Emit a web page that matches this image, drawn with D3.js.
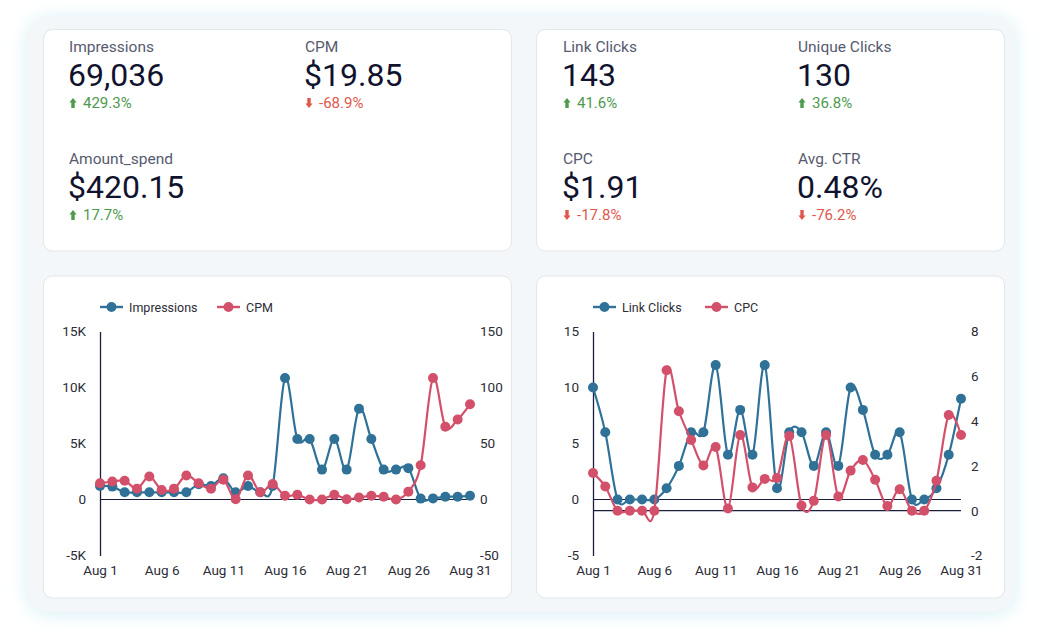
<!DOCTYPE html>
<html><head><meta charset="utf-8">
<script src="https://cdn.jsdelivr.net/npm/d3@7"></script>
<style>
html,body{margin:0;padding:0;background:#fff;}
svg{display:block;font-family:Roboto,"Noto Sans",sans-serif;}
</style></head>
<body><svg id="c" width="1041" height="642"></svg>
<script>
// ---- Data ----
const days = d3.range(1, 32);
const dayLabels = days.map(d => "Aug " + d);
const xTickDays = [1, 6, 11, 16, 21, 26, 31];

const impressions = [1200,1150,640,640,640,640,640,640,1360,1200,1900,640,1200,640,1200,10850,5400,5400,2670,5400,2670,8100,5400,2670,2670,2800,80,100,250,250,330];
const cpm = [14.5,16,16.7,9.7,20.6,8.5,9.7,21.5,14.5,9.7,17.6,0.3,21.5,6.4,13.8,3.3,4.2,0,0,4.2,0.3,1.8,3.3,2.4,0,7,30.6,108.5,65,71.5,85];
const linkClicks = [10,6,0,0,0,0,1,3,6,6,12,4,8,4,12,1,6,6,3,6,3,10,8,4,4,6,0,0,1,4,9];
const cpc = [1.68,1.08,0,0,0,0,6.27,4.44,3.16,2.02,2.84,0.1,3.38,1.04,1.42,1.46,3.34,0.23,0.44,3.38,0.63,1.79,2.26,1.38,0.21,0.96,0,0,1.34,4.27,3.38];

const leftTicksA = [-5000,0,5000,10000,15000];
const rightTicksA = [-50,0,50,100,150];
const leftTicksB = [-5,0,5,10,15];
const rightTicksB = [-2,0,2,4,6,8];

const kpiLeft = [
  {label:"Impressions", value:"69,036", delta:"429.3%", up:true},
  {label:"CPM", value:"$19.85", delta:"-68.9%", up:false},
  {label:"Amount_spend", value:"$420.15", delta:"17.7%", up:true}
];
const kpiRight = [
  {label:"Link Clicks", value:"143", delta:"41.6%", up:true},
  {label:"Unique Clicks", value:"130", delta:"36.8%", up:true},
  {label:"CPC", value:"$1.91", delta:"-17.8%", up:false},
  {label:"Avg. CTR", value:"0.48%", delta:"-76.2%", up:false}
];

// ---- Style ----
const BLUE = "#2f7197", RED = "#d3506b", AX = "#1b1d3d", TXT = "#2c2c36";
const GREEN = "#4d9a4d", DRED = "#e0584c";

const svg = d3.select("#c");
const defs = svg.append("defs");
const f = defs.append("filter").attr("id","glow").attr("x","-10%").attr("y","-10%").attr("width","120%").attr("height","120%");
f.append("feDropShadow").attr("dx",0).attr("dy",2).attr("stdDeviation",9).attr("flood-color","#c9eaf1").attr("flood-opacity",0.75);

svg.append("rect").attr("x",27).attr("y",16).attr("width",988).attr("height",596).attr("rx",22)
  .attr("fill","#f4f7f9").attr("filter","url(#glow)");

const cards = [[43,29.5,468,221.5],[536,29.5,468,221.5],[43,276,468,322],[536,276,468,322]];
svg.selectAll("rect.card").data(cards).join("rect").attr("class","card")
  .attr("x",d=>d[0]+0.5).attr("y",d=>d[1]).attr("width",d=>d[2]).attr("height",d=>d[3])
  .attr("rx",9).attr("fill","#fff").attr("stroke","#e2e7eb").attr("stroke-width",1);

// ---- KPI ----
function arrow(g, x, y, up, color){
  const p = up
    ? `M${x},${y-10} L${x+3.6},${y-5.5} L${x+1.7},${y-5.5} L${x+1.7},${y} L${x-1.7},${y} L${x-1.7},${y-5.5} L${x-3.6},${y-5.5} Z`
    : `M${x},${y} L${x+3.6},${y-4.5} L${x+1.7},${y-4.5} L${x+1.7},${y-10} L${x-1.7},${y-10} L${x-1.7},${y-4.5} L${x-3.6},${y-4.5} Z`;
  g.append("path").attr("d",p).attr("fill",color);
}
function kpi(k, x, y){
  const g = svg.append("g");
  g.append("text").attr("x",x).attr("y",y).attr("font-size",15.5).attr("fill","#565a70").text(k.label);
  g.append("text").attr("x",x-1).attr("y",y+34).attr("font-size",32).attr("fill","#11132e").text(k.value);
  const c = k.up ? GREEN : DRED;
  arrow(g, x+4, y+56, k.up, c);
  g.append("text").attr("x",x+14).attr("y",y+56).attr("font-size",15).attr("fill",c).text(k.delta);
}
kpi(kpiLeft[0], 69, 52);
kpi(kpiLeft[1], 305, 52);
kpi(kpiLeft[2], 69, 164);
kpi(kpiRight[0], 563, 52);
kpi(kpiRight[1], 798, 52);
kpi(kpiRight[2], 563, 164);
kpi(kpiRight[3], 798, 164);

// ---- Charts ----
const numFmt = d => String(d);
function chart(opt){
  const g = svg.append("g");
  const x = d3.scaleLinear().domain([1,31]).range([opt.x0, opt.x1]);
  const yL = d3.scaleLinear().domain(opt.lDom).range([555.5,331.5]);
  const yR = d3.scaleLinear().domain(opt.rDom).range([555.5,331.5]);

  g.append("line").attr("x1",opt.x0).attr("x2",opt.x1).attr("y1",yL(0)).attr("y2",yL(0)).attr("stroke",AX).attr("stroke-width",1.2);
  g.append("line").attr("x1",opt.x0).attr("x2",opt.x1).attr("y1",yR(0)).attr("y2",yR(0)).attr("stroke",AX).attr("stroke-width",1.2);

  const la = g.append("g").attr("transform",`translate(${opt.x0},0)`)
    .call(d3.axisLeft(yL).tickValues(opt.lTicks).tickSize(0).tickPadding(14).tickFormat(opt.lFmt));
  la.select(".domain").attr("stroke",AX).attr("stroke-width",1.3);
  la.selectAll("text").attr("font-size",13.5).attr("fill",TXT).attr("font-family","Roboto");

  const ra = g.append("g").attr("transform",`translate(${opt.x1},0)`)
    .call(d3.axisRight(yR).tickValues(opt.rTicks).tickSize(0).tickPadding(10).tickFormat(numFmt));
  ra.select(".domain").remove();
  ra.selectAll("text").attr("font-size",13.5).attr("fill",TXT).attr("font-family","Roboto");

  const xa = g.append("g").attr("transform",`translate(0,555.5)`)
    .call(d3.axisBottom(x).tickValues(xTickDays).tickSize(0).tickPadding(10).tickFormat(d=>dayLabels[d-1]));
  xa.select(".domain").remove();
  xa.selectAll("text").attr("font-size",13.5).attr("fill",TXT).attr("font-family","Roboto");

  const series = [
    {vals:opt.a, y:yL, color:BLUE},
    {vals:opt.b, y:yR, color:RED}
  ];
  series.forEach(s=>{
    const line = d3.line().x((v,i)=>x(days[i])).y(v=>s.y(v)).curve(d3.curveCardinal.tension(0));
    g.append("path").datum(s.vals).attr("d",line).attr("fill","none").attr("stroke",s.color).attr("stroke-width",2.2);
    g.selectAll(null).data(s.vals).join("circle").attr("cx",(v,i)=>x(days[i])).attr("cy",v=>s.y(v)).attr("r",5).attr("fill",s.color);
  });

  const lg = g.append("g");
  const items = [{name:opt.aName,color:BLUE,x:opt.x0},{name:opt.bName,color:RED,x:opt.x0+opt.legGap}];
  items.forEach(it=>{
    lg.append("line").attr("x1",it.x).attr("x2",it.x+23).attr("y1",307).attr("y2",307).attr("stroke",it.color).attr("stroke-width",2.4);
    lg.append("circle").attr("cx",it.x+11.5).attr("cy",307).attr("r",5).attr("fill",it.color);
    lg.append("text").attr("x",it.x+29).attr("y",311.5).attr("font-size",12.5).attr("fill",TXT).text(it.name);
  });
}

const kFmt = d => d===0 ? "0" : (d/1000)+"K";
chart({x0:100, x1:470, lDom:[-5000,15000], rDom:[-50,150], lTicks:leftTicksA, rTicks:rightTicksA, lFmt:kFmt,
  a:impressions, b:cpm, aName:"Impressions", bName:"CPM", legGap:117});
chart({x0:593, x1:961, lDom:[-5,15], rDom:[-2,8], lTicks:leftTicksB, rTicks:rightTicksB, lFmt:numFmt,
  a:linkClicks, b:cpc, aName:"Link Clicks", bName:"CPC", legGap:112});
</script></body></html>
